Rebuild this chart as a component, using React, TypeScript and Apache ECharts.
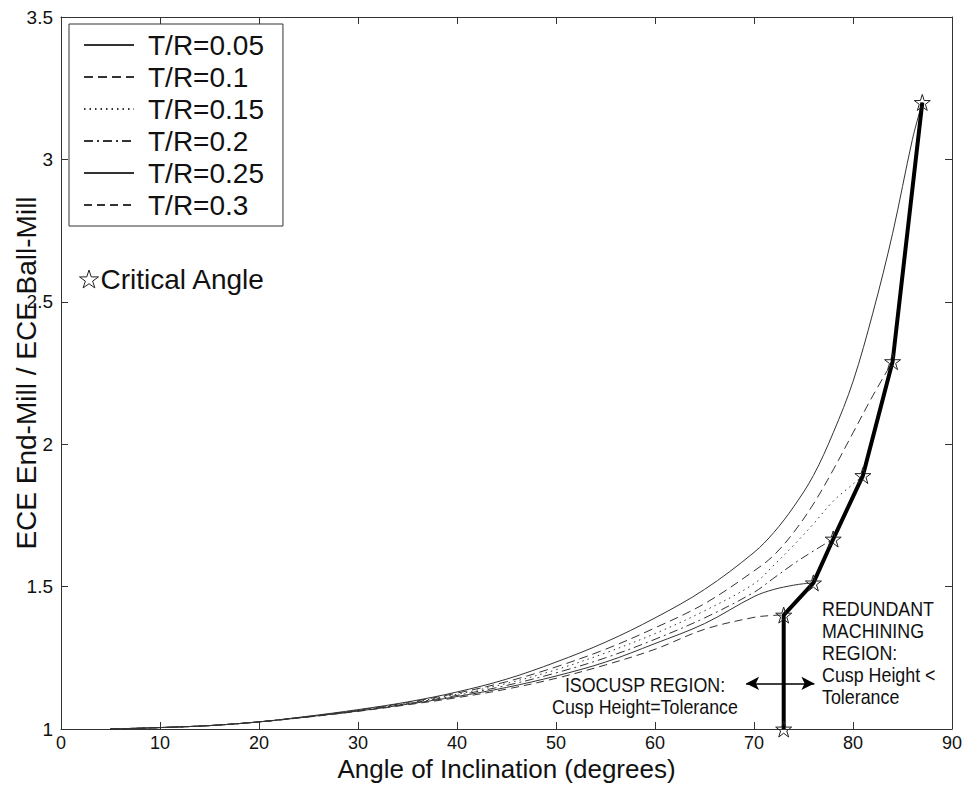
import React, { useEffect, useRef } from "react";
import * as echarts from "echarts";

// ---------- data ----------
const seriesNames = ["T/R=0.05", "T/R=0.1", "T/R=0.15", "T/R=0.2", "T/R=0.25", "T/R=0.3"];
const baseAngles = [5, 10, 15, 20, 25, 30, 35, 40, 45, 50, 55, 60, 65, 70];

const angles005 = [...baseAngles, 72, 74, 76, 78, 80, 82, 84, 86, 87];
const ratio005 = [1.0, 1.005, 1.012, 1.025, 1.045, 1.068, 1.095, 1.13, 1.175, 1.235, 1.305, 1.39, 1.49, 1.62, 1.69, 1.78, 1.89, 2.04, 2.22, 2.46, 2.74, 3.07, 3.2];

const angles01 = [...baseAngles, 72, 74, 76, 78, 80, 82, 84];
const ratio01 = [1.0, 1.005, 1.012, 1.025, 1.044, 1.066, 1.093, 1.126, 1.166, 1.218, 1.28, 1.355, 1.44, 1.555, 1.61, 1.69, 1.79, 1.91, 2.04, 2.17, 2.29];

const angles015 = [...baseAngles, 72, 74, 76, 78, 80, 81];
const ratio015 = [1.0, 1.005, 1.012, 1.025, 1.044, 1.065, 1.091, 1.122, 1.16, 1.208, 1.267, 1.335, 1.415, 1.51, 1.575, 1.645, 1.72, 1.8, 1.86, 1.89];

const angles02 = [...baseAngles, 72, 74, 76, 78];
const ratio02 = [1.0, 1.005, 1.012, 1.025, 1.043, 1.064, 1.089, 1.118, 1.153, 1.197, 1.25, 1.315, 1.39, 1.48, 1.53, 1.58, 1.625, 1.667];

const angles025 = [...baseAngles, 72, 74, 75, 76];
const ratio025 = [1.0, 1.005, 1.012, 1.025, 1.043, 1.063, 1.087, 1.114, 1.146, 1.186, 1.235, 1.3, 1.37, 1.465, 1.49, 1.505, 1.51, 1.513];

const angles03 = [...baseAngles, 72, 73];
const ratio03 = [1.0, 1.005, 1.012, 1.025, 1.042, 1.062, 1.085, 1.11, 1.14, 1.178, 1.225, 1.28, 1.35, 1.392, 1.399, 1.4];

const criticalName = "Critical Angle";
const criticalAngles = [73, 73, 76, 78, 81, 84, 87];
const criticalRatios = [1.0, 1.4, 1.513, 1.667, 1.89, 2.29, 3.2];

// double-headed arrow annotation (data coordinates)
const arrowY = 1.16;
const arrowFrom = 69.2;
const arrowTo = 76.1;

const isocuspText = "ISOCUSP REGION:\nCusp Height=Tolerance";
const redundantText = "REDUNDANT\nMACHINING\nREGION:\nCusp Height <\nTolerance";

const xTitle = "Angle of Inclination (degrees)";
const yTitle = "ECE End-Mill / ECE Ball-Mill";

// ---------- helpers ----------
const zip = (xs: number[], ys: number[]) => xs.map((x, i) => [x, ys[i]]);

const FONT = "'Liberation Sans', Arial, Helvetica, sans-serif";
const STAR = "path://M50,2 L61.2,36.2 L97.6,36.2 L68.2,57.4 L79.4,91.6 L50,70.4 L20.6,91.6 L31.8,57.4 L2.4,36.2 L38.8,36.2 Z";

const lineTypes: any[] = ["solid", [9, 5], [1.5, 4], [9, 4, 2, 4], "solid", [8, 5]];
const allData = [
  zip(angles005, ratio005),
  zip(angles01, ratio01),
  zip(angles015, ratio015),
  zip(angles02, ratio02),
  zip(angles025, ratio025),
  zip(angles03, ratio03),
];

export default function App() {
  const ref = useRef<HTMLDivElement>(null);

  useEffect(() => {
    if (!ref.current) return;
    const chart = echarts.init(ref.current, null, { renderer: "svg" });

    const axisLineStyle = { color: "#333", width: 1 };
    const curveSeries = seriesNames.map((name, i) => ({
      name,
      type: "line",
      data: allData[i],
      symbol: "none",
      smooth: 0.35,
      lineStyle: { color: "#333", width: 1, type: lineTypes[i] },
      itemStyle: { color: "#333" },
      z: 3,
    }));

    const option: any = {
      animation: false,
      backgroundColor: "#fff",
      textStyle: { fontFamily: FONT },
      grid: { left: 61, right: 14, top: 17, bottom: 56, containLabel: false, outerBoundsMode: "none" },
      legend: [
        {
          data: seriesNames,
          orient: "vertical",
          left: 69,
          top: 24,
          padding: [6, 19, 6, 14],
          itemWidth: 50,
          itemHeight: 14,
          itemGap: 2,
          borderColor: "#333",
          borderWidth: 1,
          backgroundColor: "#fff",
          selectedMode: false,
          itemStyle: { opacity: 0 },
          textStyle: { fontSize: 28, color: "#111", fontFamily: FONT, lineHeight: 30, padding: [0, 0, 0, 9] },
        },
        {
          data: [{ name: criticalName, icon: STAR }],
          orient: "vertical",
          left: 79,
          top: 264,
          padding: 0,
          itemWidth: 19,
          itemHeight: 19,
          selectedMode: false,
          itemStyle: { color: "rgba(255,255,255,0)", borderColor: "#222", borderWidth: 1 },
          textStyle: { fontSize: 28, color: "#111", fontFamily: FONT, lineHeight: 30, padding: [0, 0, 0, -3] },
        },
      ],
      xAxis: [
        {
          type: "value",
          min: 0,
          max: 90,
          interval: 10,
          position: "bottom",
          name: xTitle,
          nameLocation: "middle",
          nameGap: 27,
          nameMoveOverlap: false,
          nameTextStyle: { fontSize: 26, lineHeight: 26, color: "#111", fontFamily: FONT },
          axisLine: { show: true, onZero: false, lineStyle: axisLineStyle },
          axisTick: { show: true, inside: true, length: 7, lineStyle: axisLineStyle },
          axisLabel: { fontSize: 18, lineHeight: 18, color: "#111", margin: 5, fontFamily: FONT },
          splitLine: { show: false },
        },
        {
          type: "value",
          min: 0,
          max: 90,
          interval: 10,
          position: "top",
          axisLine: { show: true, onZero: false, lineStyle: axisLineStyle },
          axisTick: { show: true, inside: true, length: 7, lineStyle: axisLineStyle },
          axisLabel: { show: false },
          splitLine: { show: false },
        },
      ],
      yAxis: [
        {
          type: "value",
          min: 1,
          max: 3.5,
          interval: 0.5,
          position: "left",
          name: yTitle,
          nameLocation: "middle",
          nameRotate: 90,
          nameGap: 21,
          nameMoveOverlap: false,
          nameTextStyle: { fontSize: 28, color: "#111", fontFamily: FONT },
          axisLine: { show: true, onZero: false, lineStyle: axisLineStyle },
          axisTick: { show: true, inside: true, length: 7, lineStyle: axisLineStyle },
          axisLabel: { fontSize: 19, color: "#111", margin: 8, fontFamily: FONT },
          splitLine: { show: false },
        },
        {
          type: "value",
          min: 1,
          max: 3.5,
          interval: 0.5,
          position: "right",
          axisLine: { show: true, onZero: false, lineStyle: axisLineStyle },
          axisTick: { show: true, inside: true, length: 7, lineStyle: axisLineStyle },
          axisLabel: { show: false },
          splitLine: { show: false },
        },
      ],
      series: [
        ...curveSeries,
        {
          name: criticalName,
          type: "line",
          data: zip(criticalAngles, criticalRatios),
          symbol: STAR,
          symbolSize: 16,
          showSymbol: true,
          lineStyle: { color: "#000", width: 4 },
          itemStyle: { color: "rgba(255,255,255,0)", borderColor: "#222", borderWidth: 1 },
          z: 5,
          markLine: {
            silent: true,
            symbol: ["arrow", "arrow"],
            symbolSize: [10, 13],
            label: { show: false },
            lineStyle: { color: "#000", width: 1.5, type: "solid" },
            data: [[{ coord: [arrowFrom, arrowY] }, { coord: [arrowTo, arrowY] }]],
          },
        },
      ],
      graphic: [
        {
          type: "text",
          x: 645,
          y: 673,
          scaleX: 0.85,
          silent: true,
          style: {
            text: isocuspText,
            fontSize: 21,
            lineHeight: 22,
            fontFamily: FONT,
            fill: "#111",
            align: "center",
            verticalAlign: "top",
          },
        },
        {
          type: "text",
          x: 822,
          y: 598,
          scaleX: 0.85,
          silent: true,
          style: {
            text: redundantText,
            fontSize: 21,
            lineHeight: 21.8,
            fontFamily: FONT,
            fill: "#111",
            align: "left",
            verticalAlign: "top",
          },
        },
      ],
    };

    chart.setOption(option);
    return () => chart.dispose();
  }, []);

  return (
    <div
      ref={ref}
      style={{ position: "fixed", left: 0, top: 0, width: 966, height: 785, background: "#fff" }}
    />
  );
}
